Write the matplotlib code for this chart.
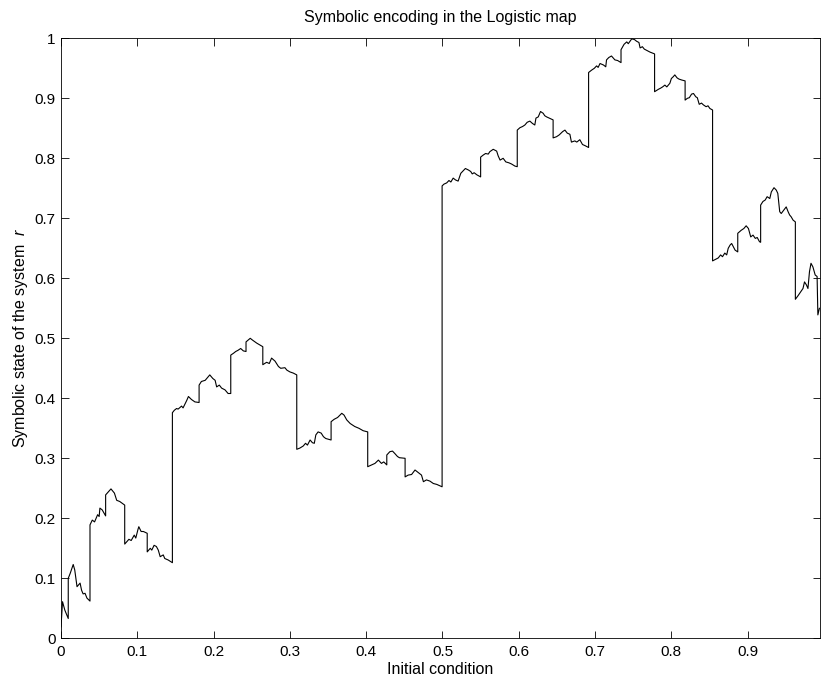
import matplotlib.pyplot as plt
from matplotlib.ticker import FixedLocator

# Symbolic state r versus the initial condition x0 of the logistic map
initial_condition = [
    0.000, 0.002, 0.005, 0.0095, 0.0095, 0.012, 0.016, 0.018, 0.021, 0.025,
    0.027, 0.029, 0.0315, 0.034, 0.038, 0.038, 0.041, 0.044, 0.048, 0.050,
    0.051, 0.054, 0.0585, 0.0585, 0.062, 0.0655, 0.070, 0.073, 0.077, 0.0835,
    0.0835, 0.089, 0.092, 0.096, 0.098, 0.101, 0.102, 0.105, 0.108, 0.113,
    0.113, 0.117, 0.119, 0.122, 0.125, 0.1275, 0.130, 0.134, 0.136, 0.1405,
    0.146, 0.146, 0.1485, 0.1515, 0.1535, 0.158, 0.160, 0.165, 0.167, 0.171,
    0.1755, 0.181, 0.181, 0.184, 0.189, 0.193, 0.195, 0.199, 0.202, 0.204,
    0.2075, 0.2105, 0.215, 0.219, 0.2225, 0.2225, 0.226, 0.229, 0.232, 0.2355,
    0.239, 0.2425, 0.2425, 0.248, 0.251, 0.2565, 0.2645, 0.2645, 0.2695, 0.273,
    0.276, 0.2805, 0.285, 0.288, 0.2935, 0.296, 0.300, 0.3045, 0.309, 0.309,
    0.313, 0.3175, 0.3205, 0.323, 0.3265, 0.3295, 0.332, 0.334, 0.337, 0.341,
    0.344, 0.347, 0.354, 0.354, 0.358, 0.3625, 0.368, 0.371, 0.3745, 0.379,
    0.385, 0.3905, 0.396, 0.402, 0.402, 0.407, 0.4115, 0.416, 0.420, 0.423,
    0.427, 0.427, 0.431, 0.4345, 0.4375, 0.441, 0.4435, 0.451, 0.451, 0.455,
    0.4595, 0.464, 0.468, 0.4725, 0.475, 0.479, 0.4835, 0.488, 0.4925, 0.4995,
    0.4995, 0.502, 0.5055, 0.5085, 0.511, 0.514, 0.517, 0.5205, 0.524, 0.527,
    0.530, 0.534, 0.537, 0.539, 0.5415, 0.545, 0.550, 0.550, 0.5535, 0.5565,
    0.560, 0.562, 0.5665, 0.571, 0.573, 0.5755, 0.5795, 0.583, 0.587, 0.5905,
    0.595, 0.598, 0.598, 0.6015, 0.605, 0.608, 0.611, 0.6145, 0.618, 0.621,
    0.6225, 0.6255, 0.6285, 0.632, 0.634, 0.6365, 0.640, 0.645, 0.645, 0.6495,
    0.653, 0.6575, 0.6605, 0.6635, 0.667, 0.669, 0.6735, 0.676, 0.680, 0.6835,
    0.687, 0.6915, 0.6915, 0.6955, 0.699, 0.702, 0.704, 0.7065, 0.711, 0.714,
    0.715, 0.718, 0.7215, 0.724, 0.726, 0.7295, 0.734, 0.734, 0.738, 0.7415,
    0.7435, 0.748, 0.7515, 0.7545, 0.7575, 0.759, 0.762, 0.7645, 0.7675, 0.772,
    0.778, 0.778, 0.783, 0.786, 0.7885, 0.7915, 0.794, 0.798, 0.800, 0.8025,
    0.8045, 0.8075, 0.810, 0.8135, 0.818, 0.818, 0.821, 0.8235, 0.8265, 0.829,
    0.832, 0.834, 0.8365, 0.8395, 0.842, 0.8455, 0.848, 0.8505, 0.854, 0.854,
    0.8585, 0.8615, 0.8645, 0.867, 0.870, 0.8725, 0.8745, 0.877, 0.879, 0.881,
    0.8835, 0.887, 0.887, 0.8915, 0.895, 0.898, 0.901, 0.904, 0.907, 0.910,
    0.9125, 0.9155, 0.917, 0.917, 0.920, 0.923, 0.9255, 0.929, 0.931, 0.9345,
    0.9375, 0.9395, 0.942, 0.944, 0.9475, 0.9505, 0.953, 0.955, 0.957, 0.9595,
    0.9625, 0.9625, 0.966, 0.9695, 0.9725, 0.9745, 0.977, 0.979, 0.981, 0.983,
    0.9855, 0.9885, 0.991, 0.992, 0.994,
]
symbolic_state = [
    0.019, 0.061, 0.047, 0.033, 0.100, 0.108, 0.123, 0.114, 0.086, 0.092,
    0.080, 0.074, 0.075, 0.067, 0.062, 0.189, 0.197, 0.194, 0.206, 0.203,
    0.217, 0.214, 0.204, 0.239, 0.244, 0.249, 0.242, 0.230, 0.228, 0.222,
    0.157, 0.165, 0.163, 0.172, 0.167, 0.182, 0.186, 0.178, 0.178, 0.175,
    0.144, 0.150, 0.147, 0.155, 0.153, 0.147, 0.136, 0.139, 0.133, 0.1305,
    0.126, 0.376, 0.380, 0.383, 0.382, 0.387, 0.384, 0.397, 0.403, 0.398,
    0.394, 0.393, 0.422, 0.428, 0.430, 0.436, 0.439, 0.433, 0.430, 0.419,
    0.422, 0.417, 0.414, 0.408, 0.408, 0.472, 0.475, 0.478, 0.480, 0.483,
    0.479, 0.478, 0.494, 0.500, 0.497, 0.492, 0.486, 0.456, 0.460, 0.458,
    0.467, 0.462, 0.453, 0.450, 0.451, 0.447, 0.444, 0.442, 0.439, 0.315,
    0.317, 0.3205, 0.325, 0.322, 0.3305, 0.326, 0.325, 0.339, 0.344, 0.342,
    0.336, 0.333, 0.3305, 0.361, 0.365, 0.368, 0.375, 0.372, 0.364, 0.358,
    0.353, 0.350, 0.346, 0.344, 0.286, 0.289, 0.2915, 0.297, 0.2915, 0.294,
    0.289, 0.3055, 0.311, 0.312, 0.308, 0.303, 0.301, 0.300, 0.269, 0.272,
    0.273, 0.2805, 0.2765, 0.272, 0.261, 0.264, 0.262, 0.258, 0.2565, 0.2525,
    0.754, 0.757, 0.759, 0.763, 0.7605, 0.767, 0.764, 0.762, 0.775, 0.779,
    0.783, 0.7805, 0.778, 0.774, 0.776, 0.7725, 0.769, 0.802, 0.8055, 0.808,
    0.807, 0.811, 0.815, 0.812, 0.804, 0.797, 0.800, 0.794, 0.7925, 0.7905,
    0.787, 0.786, 0.847, 0.851, 0.853, 0.8555, 0.860, 0.862, 0.858, 0.8555,
    0.867, 0.869, 0.878, 0.875, 0.871, 0.869, 0.867, 0.864, 0.834, 0.836,
    0.839, 0.8445, 0.847, 0.842, 0.840, 0.827, 0.829, 0.827, 0.831, 0.823,
    0.821, 0.818, 0.943, 0.947, 0.950, 0.954, 0.9515, 0.958, 0.9555, 0.9525,
    0.964, 0.968, 0.9705, 0.967, 0.964, 0.963, 0.9595, 0.981, 0.990, 0.994,
    0.991, 0.999, 0.998, 0.995, 0.993, 0.984, 0.986, 0.982, 0.980, 0.977,
    0.974, 0.911, 0.915, 0.917, 0.919, 0.922, 0.919, 0.925, 0.933, 0.936,
    0.939, 0.934, 0.932, 0.9305, 0.929, 0.897, 0.900, 0.901, 0.907, 0.908,
    0.9025, 0.901, 0.890, 0.892, 0.889, 0.886, 0.8875, 0.883, 0.8805, 0.629,
    0.632, 0.634, 0.639, 0.636, 0.642, 0.639, 0.650, 0.6555, 0.658, 0.653,
    0.647, 0.644, 0.675, 0.680, 0.683, 0.6875, 0.683, 0.669, 0.672, 0.6665,
    0.668, 0.661, 0.660, 0.722, 0.728, 0.7305, 0.736, 0.733, 0.744, 0.751,
    0.747, 0.7415, 0.711, 0.708, 0.714, 0.719, 0.711, 0.7055, 0.7025, 0.697,
    0.694, 0.565, 0.571, 0.5775, 0.583, 0.594, 0.589, 0.583, 0.611, 0.625,
    0.619, 0.6055, 0.603, 0.539, 0.550,
]

x_ticks = [0, 0.1, 0.2, 0.3, 0.4, 0.5, 0.6, 0.7, 0.8, 0.9]
x_tick_labels = ['0', '0.1', '0.2', '0.3', '0.4', '0.5', '0.6', '0.7', '0.8', '0.9']
y_ticks = [0, 0.1, 0.2, 0.3, 0.4, 0.5, 0.6, 0.7, 0.8, 0.9, 1.0]
y_tick_labels = ['0', '0.1', '0.2', '0.3', '0.4', '0.5', '0.6', '0.7', '0.8', '0.9', '1']

plt.rcParams['font.family'] = ['Liberation Sans', 'DejaVu Sans']
plt.rcParams['mathtext.fontset'] = 'custom'
plt.rcParams['mathtext.it'] = 'Liberation Sans:italic'
plt.rcParams['mathtext.rm'] = 'Liberation Sans'

fig = plt.figure(figsize=(8.21, 6.83), dpi=100)
ax = fig.add_axes([61 / 821, 44.7 / 683, 759 / 821, 600 / 683])

ax.plot(initial_condition, symbolic_state, color='black', linewidth=0.8)

ax.set_xlim(0, 0.9948)
ax.set_ylim(0, 1)
ax.xaxis.set_major_locator(FixedLocator(x_ticks))
ax.set_xticklabels(x_tick_labels)
ax.yaxis.set_major_locator(FixedLocator(y_ticks))
ax.set_yticklabels(y_tick_labels)

# boxed axes with inward ticks on all four sides
ax.tick_params(direction='in', length=5.4, width=0.6, top=True, right=True,
               labelsize=11)
ax.tick_params(axis='x', pad=5)
ax.tick_params(axis='y', pad=4)
for spine in ax.spines.values():
    spine.set_linewidth(0.6)

ax.set_title('Symbolic encoding in the Logistic map', fontsize=11.5, pad=12)
ax.set_xlabel('Initial condition', fontsize=11.5, labelpad=2)
ax.set_ylabel('Symbolic state of the system  $r$', fontsize=11.5, labelpad=3)

fig.savefig('out.png', dpi=100)
